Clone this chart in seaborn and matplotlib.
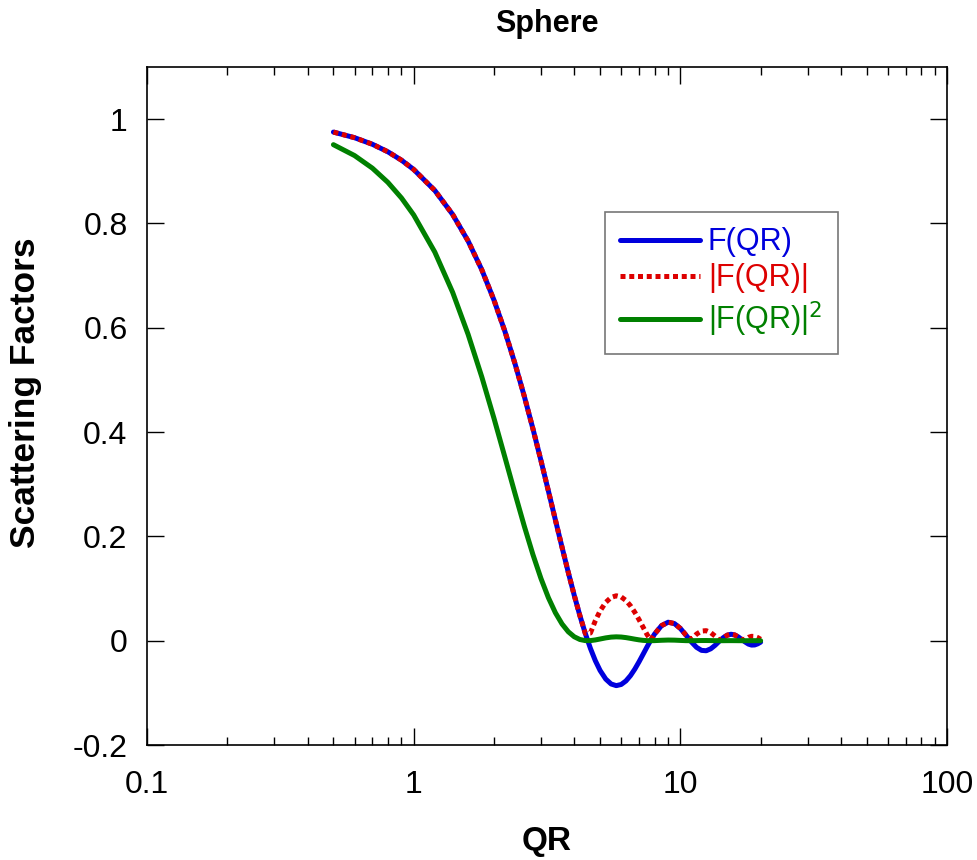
import numpy as np
import pandas as pd
import matplotlib
matplotlib.use('Agg')
import matplotlib.pyplot as plt
import seaborn as sns
from matplotlib.ticker import LogLocator, NullFormatter, FixedLocator

# values
qr = [0.5, 0.6, 0.7, 0.8, 0.9, 1.0, 1.2, 1.4, 1.6, 1.8, 2.0, 2.2, 2.4, 2.6, 2.8,
      3.0, 3.2, 3.4, 3.6, 3.8, 4.0, 4.2, 4.4, 4.6, 4.8, 5.0, 5.25, 5.5, 5.75, 6.0,
      6.25, 6.5, 6.75, 7.0, 7.25, 7.5, 7.75, 8.0, 8.5, 9.0, 9.5, 10, 10.5, 11,
      11.5, 12, 12.5, 13, 13.5, 14, 14.5, 15, 15.5, 16, 16.5, 17, 17.5, 18, 18.5,
      19, 19.5, 20]
f_qr = [0.97522, 0.96446, 0.95185, 0.93745, 0.92131, 0.90351, 0.86321, 0.81723,
        0.76633, 0.71132, 0.65310, 0.59256, 0.53065, 0.46827, 0.40632, 0.34568,
        0.28712, 0.23139, 0.17913, 0.13088, 0.08708, 0.04809, 0.01411, -0.01473,
        -0.03842, -0.05705, -0.07354, -0.08300, -0.08616, -0.08390, -0.07717,
        -0.06699, -0.05441, -0.04041, -0.02593, -0.01182, 0.00123, 0.01262,
        0.02890, 0.03544, 0.03288, 0.02354, 0.01066, -0.00236, -0.01268, -0.01851,
        -0.01926, -0.01554, -0.00881, -0.00101, 0.00598, 0.01071, 0.01238, 0.01101,
        0.00726, 0.00227, -0.00249, -0.00650, -0.00841, -0.00815, -0.00603, -0.00272]
abs_f = [0.97522, 0.96446, 0.95185, 0.93745, 0.92131, 0.90351, 0.86321, 0.81723,
         0.76633, 0.71132, 0.65310, 0.59256, 0.53065, 0.46827, 0.40632, 0.34568,
         0.28712, 0.23139, 0.17913, 0.13088, 0.08708, 0.04809, 0.01411, 0.01473,
         0.03842, 0.05705, 0.07354, 0.08300, 0.08616, 0.08390, 0.07717,
         0.06699, 0.05441, 0.04041, 0.02593, 0.01182, 0.00123, 0.01262,
         0.02890, 0.03544, 0.03288, 0.02354, 0.01066, 0.00236, 0.01268, 0.01851,
         0.01926, 0.01554, 0.00881, 0.00101, 0.00598, 0.01071, 0.01238, 0.01101,
         0.00726, 0.00227, 0.00249, 0.00650, 0.00841, 0.00815, 0.00603, 0.00272]
f_sq = [0.95105, 0.93018, 0.90602, 0.87881, 0.84881, 0.81633, 0.74513, 0.66787,
        0.58726, 0.50598, 0.42654, 0.35113, 0.28159, 0.21928, 0.16510, 0.11950,
        0.08244, 0.05354, 0.03209, 0.01713, 0.00758, 0.00231, 0.00020, 0.00022,
        0.00148, 0.00326, 0.00541, 0.00689, 0.00742, 0.00704, 0.00595, 0.00449,
        0.00296, 0.00163, 0.00067, 0.00014, 0.0000015, 0.00016, 0.00084, 0.00126,
        0.00108, 0.00055, 0.00011, 0.0000056, 0.00016, 0.00034, 0.00037, 0.00024,
        0.000078, 0.000001, 0.000036, 0.00012, 0.00015, 0.00012, 0.000053,
        0.0000051, 0.0000062, 0.000042, 0.000071, 0.000066, 0.000036, 0.0000074]

df = pd.DataFrame({'QR': qr, 'F': f_qr, 'absF': abs_f, 'F2': f_sq})

sns.set_style('white')
plt.rcParams['font.family'] = ['Liberation Sans', 'DejaVu Sans']
plt.rcParams['text.color'] = 'black'
plt.rcParams['axes.labelcolor'] = 'black'
plt.rcParams['xtick.color'] = 'black'
plt.rcParams['ytick.color'] = 'black'

fig = plt.figure(figsize=(9.77, 8.6), dpi=100)
ax = fig.add_axes([0.1505, 0.1337, 0.8188, 0.7884])

sns.lineplot(data=df, x='QR', y='F', ax=ax, color='#0000dd', lw=3.6, label='F(QR)')
sns.lineplot(data=df, x='QR', y='absF', ax=ax, color='#dd0000', lw=3.6,
             dashes=False, label='|F(QR)|')
ax.lines[-1].set_dashes([1.0, 0.75])
sns.lineplot(data=df, x='QR', y='F2', ax=ax, color='#008000', lw=3.6,
             label='|F(QR)|$^2$')

ax.set_xscale('log')
ax.set_xlim(0.1, 100)
ax.set_ylim(-0.2, 1.1)
ax.set_xticks([0.1, 1, 10, 100])
ax.set_xticklabels(['0.1', '1', '10', '100'])
ax.xaxis.set_minor_locator(LogLocator(base=10, subs=np.arange(2, 10)))
ax.xaxis.set_minor_formatter(NullFormatter())
ax.yaxis.set_major_locator(FixedLocator([-0.2, 0, 0.2, 0.4, 0.6, 0.8, 1.0]))
ax.set_yticklabels(['-0.2', '0', '0.2', '0.4', '0.6', '0.8', '1'])

ax.tick_params(which='both', direction='in', top=True, right=True, bottom=True,
               left=True, color='black', labelcolor='black', width=1,
               labelsize=23, pad=14)
ax.tick_params(which='major', length=12)
ax.tick_params(which='minor', length=6)
ax.tick_params(axis='x', pad=18)
for s in ax.spines.values():
    s.set_color('black')
    s.set_linewidth(1.2)

ax.set_title('Sphere', fontsize=22, fontweight='bold', pad=25)
ax.set_xlabel('QR', fontsize=24, fontweight='bold', labelpad=19)
ax.set_ylabel('Scattering Factors', fontsize=25.5, fontweight='bold')
ax.yaxis.set_label_coords(-0.131, 0.519)

leg = ax.legend(loc='upper left', bbox_to_anchor=(0.5725, 0.786), fontsize=22,
                frameon=True, fancybox=False, handlelength=2.6, handletextpad=0.27,
                labelspacing=0.2, borderpad=0.5, borderaxespad=0)
leg.get_frame().set_edgecolor('#555555')
leg.get_frame().set_linewidth(1.2)
for txt, line in zip(leg.get_texts(), leg.get_lines()):
    txt.set_color(line.get_color())

fig.savefig('out.png', dpi=100)
